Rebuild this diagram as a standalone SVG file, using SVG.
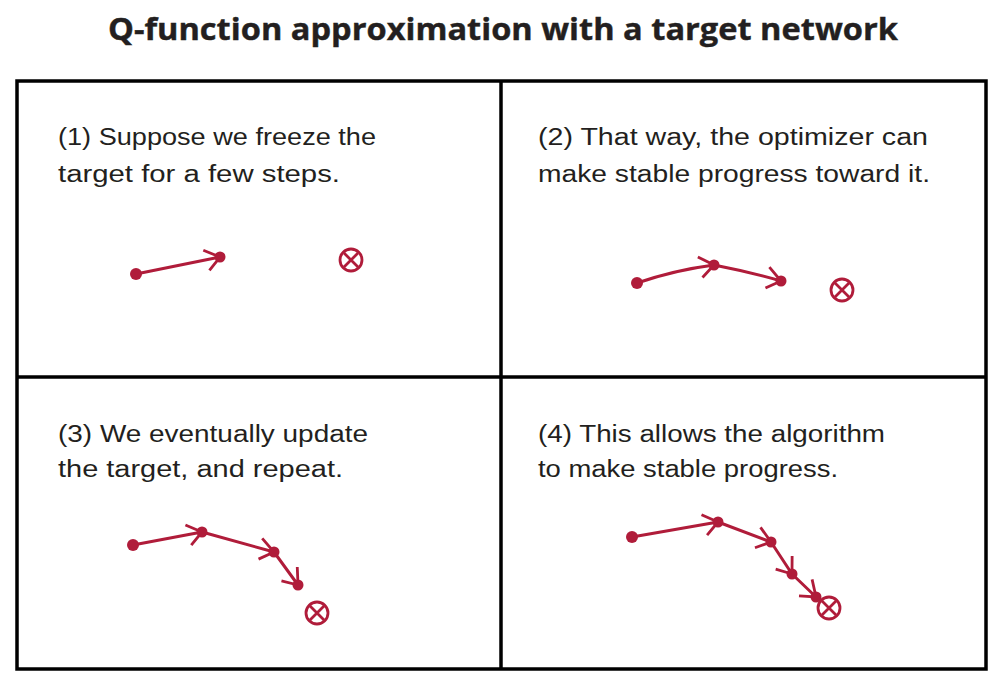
<svg xmlns="http://www.w3.org/2000/svg" width="1006" height="694" viewBox="0 0 1006 694">
<defs>
<style>
.title{font-family:"Open Sans","Liberation Sans",sans-serif;font-weight:bold;font-size:30px;fill:#231f20;stroke:#231f20;stroke-width:0.4}
.cap{font-family:"Liberation Sans",sans-serif;font-size:23px;fill:#231f20}
.frame{fill:none;stroke:#000;stroke-width:3.5}
.dot{fill:#b01c3a}
.conn{fill:none;stroke:#b01c3a;stroke-width:3;stroke-linecap:round}
.tgt circle{fill:none;stroke:#b01c3a;stroke-width:2.8}
.tgt path{stroke:#b01c3a;stroke-width:2.8;fill:none}
</style>
<marker id="ah" markerUnits="userSpaceOnUse" markerWidth="34" markerHeight="34" viewBox="-17 -17 34 34" refX="0" refY="0" orient="auto">
<path d="M-15,-10 L0,0 L-13,11" fill="none" stroke="#b01c3a" stroke-width="2.8"/>
</marker>
</defs>
<rect width="1006" height="694" fill="#fff"/>
<text class="title" x="503" y="40" text-anchor="middle" textLength="790" lengthAdjust="spacingAndGlyphs">Q-function approximation with a target network</text>
<g id="frame">
<rect class="frame" x="17" y="81" width="969" height="588"/>
<line class="frame" x1="501" y1="81" x2="501" y2="669"/>
<line class="frame" x1="17" y1="377" x2="986" y2="377"/>
</g>
<g id="captions">
<text class="cap" x="58" y="145" textLength="318" lengthAdjust="spacingAndGlyphs">(1) Suppose we freeze the</text>
<text class="cap" x="58" y="182" textLength="282" lengthAdjust="spacingAndGlyphs">target for a few steps.</text>
<text class="cap" x="538" y="145" textLength="390" lengthAdjust="spacingAndGlyphs">(2) That way, the optimizer can</text>
<text class="cap" x="538" y="182" textLength="392" lengthAdjust="spacingAndGlyphs">make stable progress toward it.</text>
<text class="cap" x="58" y="442" textLength="310" lengthAdjust="spacingAndGlyphs">(3) We eventually update</text>
<text class="cap" x="58" y="477" textLength="285" lengthAdjust="spacingAndGlyphs">the target, and repeat.</text>
<text class="cap" x="538" y="442" textLength="347" lengthAdjust="spacingAndGlyphs">(4) This allows the algorithm</text>
<text class="cap" x="538" y="477" textLength="300" lengthAdjust="spacingAndGlyphs">to make stable progress.</text>
</g>
<g id="connectors">
<path class="conn" marker-end="url(#ah)" d="M136,274 L220,257"/>
<path class="conn" marker-end="url(#ah)" d="M637,283 Q675,270 714,265"/>
<path class="conn" marker-end="url(#ah)" d="M714,265 Q750,272 781,281"/>
<path class="conn" marker-end="url(#ah)" d="M133,545 L202,532"/>
<path class="conn" marker-end="url(#ah)" d="M202,532 L274,552"/>
<path class="conn" marker-end="url(#ah)" d="M274,552 L298,585"/>
<path class="conn" marker-end="url(#ah)" d="M632,537 L718,522"/>
<path class="conn" marker-end="url(#ah)" d="M718,522 L771,542"/>
<path class="conn" marker-end="url(#ah)" d="M771,542 L792,574"/>
<path class="conn" marker-end="url(#ah)" d="M792,574 L816,597"/>
</g>
<g id="p1-n1"><circle class="dot" cx="136" cy="274" r="6"/></g>
<g id="p1-n2"><circle class="dot" cx="220" cy="257" r="5.5"/></g>
<g id="p1-target" class="tgt"><circle cx="351" cy="260" r="11"/><path d="M344,253 L358,267 M358,253 L344,267"/></g>
<g id="p2-n1"><circle class="dot" cx="637" cy="283" r="6"/></g>
<g id="p2-n2"><circle class="dot" cx="714" cy="265" r="5.5"/></g>
<g id="p2-n3"><circle class="dot" cx="781" cy="281" r="5.5"/></g>
<g id="p2-target" class="tgt"><circle cx="842" cy="290" r="11"/><path d="M835,283 L849,297 M849,283 L835,297"/></g>
<g id="p3-n1"><circle class="dot" cx="133" cy="545" r="6"/></g>
<g id="p3-n2"><circle class="dot" cx="202" cy="532" r="5.5"/></g>
<g id="p3-n3"><circle class="dot" cx="274" cy="552" r="5.5"/></g>
<g id="p3-n4"><circle class="dot" cx="298" cy="585" r="5.5"/></g>
<g id="p3-target" class="tgt"><circle cx="317" cy="613" r="11"/><path d="M310,606 L324,620 M324,606 L310,620"/></g>
<g id="p4-n1"><circle class="dot" cx="632" cy="537" r="6"/></g>
<g id="p4-n2"><circle class="dot" cx="718" cy="522" r="5.5"/></g>
<g id="p4-n3"><circle class="dot" cx="771" cy="542" r="5.5"/></g>
<g id="p4-n4"><circle class="dot" cx="792" cy="574" r="5.5"/></g>
<g id="p4-n5"><circle class="dot" cx="816" cy="597" r="5.5"/></g>
<g id="p4-target" class="tgt"><circle cx="829" cy="608" r="11"/><path d="M822,601 L836,615 M836,601 L822,615"/></g>
</svg>
